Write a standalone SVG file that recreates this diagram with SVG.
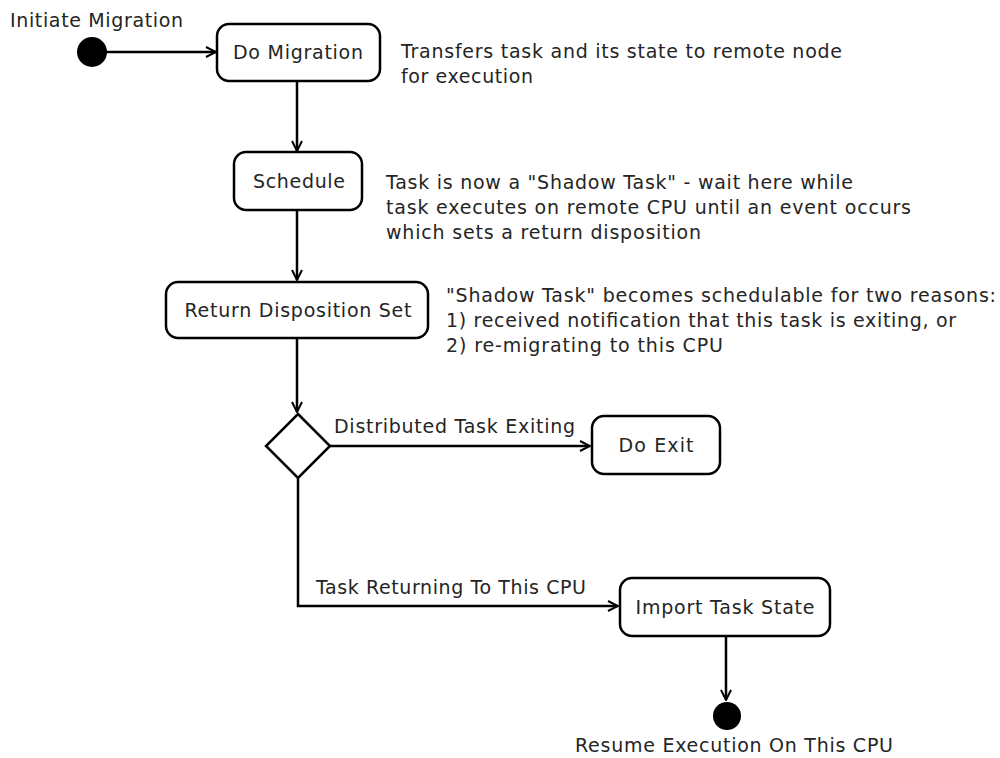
<svg xmlns="http://www.w3.org/2000/svg" width="1000" height="758" viewBox="0 0 1000 758">
<defs>
<marker id="arr" viewBox="0 0 12 12" refX="11" refY="6" markerWidth="12" markerHeight="12" markerUnits="userSpaceOnUse" orient="auto">
<path d="M1,1 L11,6 L1,11" fill="none" stroke="#000" stroke-width="2"/>
</marker>
<style>
text{font-family:"DejaVu Sans",sans-serif;font-size:19px;fill:#252525}
.box{fill:#fff;stroke:#000;stroke-width:2.5}
.c{text-anchor:middle}
.ln{fill:none;stroke:#000;stroke-width:2.5;marker-end:url(#arr)}
</style>
</defs>
<rect width="1000" height="758" fill="#fff"/>
<g id="connectors">
<path class="ln" d="M92,52 L216,52"/>
<path class="ln" d="M297,81 L297,151"/>
<path class="ln" d="M297,210 L297,280"/>
<path class="ln" d="M297,338 L297,412"/>
<path class="ln" d="M330,446 L590,446"/>
<path class="ln" d="M298,478 L298,606 L618,606"/>
<path class="ln" d="M726,636 L726,700"/>
</g>
<g id="start">
<circle cx="92" cy="52" r="15" fill="#000"/>
<text x="10" y="27" textLength="173" lengthAdjust="spacing">Initiate Migration</text>
</g>
<g id="doMigration">
<rect class="box" x="217" y="24" width="163" height="57" rx="12"/>
<text class="c" x="298" y="59" textLength="130" lengthAdjust="spacing">Do Migration</text>
</g>
<g id="note1">
<text x="401" y="58" textLength="441" lengthAdjust="spacing">Transfers task and its state to remote node</text>
<text x="401" y="83" textLength="132" lengthAdjust="spacing">for execution</text>
</g>
<g id="schedule">
<rect class="box" x="234" y="152" width="128" height="58" rx="12"/>
<text class="c" x="299" y="188" textLength="92" lengthAdjust="spacing">Schedule</text>
</g>
<g id="note2">
<text x="386" y="189" textLength="467" lengthAdjust="spacing">Task is now a "Shadow Task" - wait here while</text>
<text x="386" y="214" textLength="525" lengthAdjust="spacing">task executes on remote CPU until an event occurs</text>
<text x="386" y="239" textLength="315" lengthAdjust="spacing">which sets a return disposition</text>
</g>
<g id="returnDisposition">
<rect class="box" x="166" y="282" width="262" height="56" rx="12"/>
<text class="c" x="298" y="317" textLength="227" lengthAdjust="spacing">Return Disposition Set</text>
</g>
<g id="note3">
<text x="446" y="302" textLength="550" lengthAdjust="spacing">"Shadow Task" becomes schedulable for two reasons:</text>
<text x="446" y="327" textLength="510" lengthAdjust="spacing">1) received notification that this task is exiting, or</text>
<text x="446" y="352" textLength="277" lengthAdjust="spacing">2) re-migrating to this CPU</text>
</g>
<g id="decision">
<path class="box" d="M298,414 L330,446 L298,478 L266,446 Z"/>
</g>
<g id="labels">
<text x="334" y="433" textLength="241" lengthAdjust="spacing">Distributed Task Exiting</text>
<text x="316" y="594" textLength="270" lengthAdjust="spacing">Task Returning To This CPU</text>
</g>
<g id="doExit">
<rect class="box" x="592" y="416" width="128" height="58" rx="12"/>
<text class="c" x="656" y="452" textLength="75" lengthAdjust="spacing">Do Exit</text>
</g>
<g id="importTaskState">
<rect class="box" x="620" y="578" width="210" height="58" rx="12"/>
<text class="c" x="725" y="614" textLength="179" lengthAdjust="spacing">Import Task State</text>
</g>
<g id="end">
<circle cx="727" cy="716" r="14" fill="#000"/>
<text x="575" y="752" textLength="318" lengthAdjust="spacing">Resume Execution On This CPU</text>
</g>
</svg>
